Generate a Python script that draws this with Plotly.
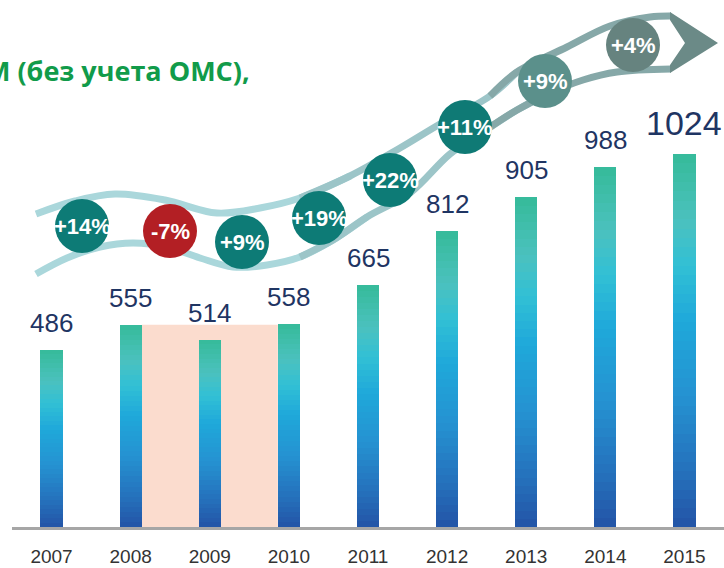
import plotly.graph_objects as go
from plotly.colors import sample_colorscale

# ---------------- data ----------------
years = ["2007", "2008", "2009", "2010", "2011", "2012", "2013", "2014", "2015"]
values = [486, 555, 514, 558, 665, 812, 905, 988, 1024]

# growth labels derived from the values
growth = []
for a, b in zip(values[:-1], values[1:]):
    g = round((b / a - 1) * 100)
    growth.append(("+" if g > 0 else "-") + f"{abs(g)}%")

title_text = "М (без учета ОМС),"

# ---------------- styles / decoration layout (page pixels) ----------------
FONT = "Arial, Liberation Sans, sans-serif"
N_SEG = 40
BAR_W = 0.28
grad = [[0.0, "#35bb99"], [0.18, "#4bc1bf"], [0.30, "#31c0d5"], [0.45, "#1fa8da"],
        [0.65, "#2592d1"], [0.85, "#2571bc"], [1.0, "#2354a6"]]

circle_x = [82, 170, 242, 319, 390, 465, 545, 633]
circle_y = [226, 231, 242, 218, 180, 127, 81, 45]
circle_col = ["#0d7b76", "#b31f24", "#0d7b76", "#0d7b76", "#0d7b76", "#0f7a75", "#5b908b", "#66837f"]

upper_wave = [(36, 214), (75, 201), (115, 194), (165, 200), (217, 213), (260, 208), (300, 198),
              (350, 176), (400, 148), (440, 124), (490, 96), (517, 72), (567, 47), (610, 26),
              (650, 17), (671, 16)]
lower_wave = [(36, 274), (67, 258), (100, 247), (133, 243), (167, 247), (200, 258), (233, 267),
              (267, 265), (300, 257), (333, 240), (367, 217), (410, 193), (450, 154), (483, 132),
              (517, 110), (550, 93), (583, 80), (617, 72), (671, 69)]
arrow = [(670, 12), (718, 43), (670, 73), (670, 65), (685, 43), (670, 20), (670, 12)]
wave_cols = [(0, 330, "#aad7db"), (330, 520, "#9cc5c8"), (520, 700, "#86a8a8")]

fig = go.Figure()

# gradient bars as stacked slices
for k in range(N_SEG):
    pos_from_top = 1 - (k + 0.5) / N_SEG
    col = sample_colorscale(grad, [pos_from_top])[0]
    fig.add_trace(go.Bar(x=years, y=[v / N_SEG for v in values], marker_color=col,
                         marker_line_width=0, hoverinfo="skip", showlegend=False))

# wave band (decoration, pixel axes)
for pts in (upper_wave, lower_wave):
    for x0, x1, c in wave_cols:
        seg = [p for p in pts if x0 - 40 <= p[0] <= x1 + 40]
        fig.add_trace(go.Scatter(x=[p[0] for p in seg], y=[p[1] for p in seg], mode="lines",
                                 line=dict(color=c, width=7, shape="spline"),
                                 xaxis="x2", yaxis="y2", hoverinfo="skip", showlegend=False))

fig.add_trace(go.Scatter(x=[p[0] for p in arrow], y=[p[1] for p in arrow], mode="lines",
                         fill="toself", fillcolor="#6b8a87", line=dict(width=0, color="#6b8a87"),
                         xaxis="x2", yaxis="y2", hoverinfo="skip", showlegend=False))

# growth circles
fig.add_trace(go.Scatter(x=circle_x, y=circle_y, mode="markers",
                         marker=dict(size=54, color=circle_col, line=dict(width=0)),
                         xaxis="x2", yaxis="y2", hoverinfo="skip", showlegend=False))
for cx, cy, t in zip(circle_x, circle_y, growth):
    fig.add_annotation(xref="x2", yref="y2", x=cx, y=cy, text=t, showarrow=False,
                       xanchor="center", yanchor="middle",
                       font=dict(family=FONT, size=22, color="white", weight="bold"))

# value labels
for i, v in enumerate(values):
    fig.add_annotation(xref="x", yref="y", x=i, y=v, text=str(v), showarrow=False,
                       yanchor="bottom", yshift=10,
                       font=dict(family=FONT, size=34 if i == len(values) - 1 else 26, color="#1f3563"))

# title fragment (its start runs off the left edge, as in the source)
fig.add_annotation(xref="paper", yref="paper", x=(-17 - 12) / 712, y=(527 - 70) / 527,
                   xanchor="left", yanchor="middle", text=title_text, showarrow=False,
                   font=dict(family="Open Sans, sans-serif", size=27, color="#119b4a", weight="bold"))

# pink crisis band
fig.add_shape(type="rect", xref="x", yref="y", x0=1 + BAR_W / 2, x1=3 - BAR_W / 2,
              y0=0, y1=values[1], fillcolor="#fbdcce", line_width=0, layer="below")

fig.update_layout(
    template="none",
    width=724, height=568, margin=dict(l=12, r=0, t=0, b=41),
    paper_bgcolor="white", plot_bgcolor="white",
    barmode="stack", bargap=1 - BAR_W, showlegend=False,
    xaxis=dict(type="category", categoryorder="array", categoryarray=years, range=[-0.5, 8.5],
               showline=True, linecolor="#a6a6a6", linewidth=3, showgrid=False, zeroline=False,
               ticks="", ticklabelstandoff=10, tickfont=dict(family=FONT, size=19, color="#333333"),
               automargin=False, fixedrange=True),
    yaxis=dict(range=[0, 1447], visible=False, fixedrange=True, automargin=False),
    xaxis2=dict(overlaying="x", range=[12, 724], visible=False, anchor="y2", fixedrange=True),
    yaxis2=dict(overlaying="y", range=[527, 0], visible=False, anchor="x2", fixedrange=True),
)

fig.write_html("out.html", config={"displayModeBar": False},
               post_script="document.body.style.margin='0';")
